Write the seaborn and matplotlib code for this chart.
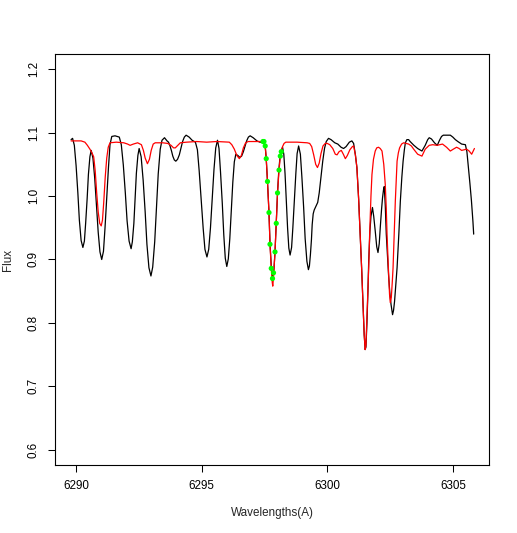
import matplotlib
matplotlib.use("Agg")
import matplotlib.pyplot as plt
import pandas as pd
import seaborn as sns

# observed spectrum (black)
black_wl = [
    6289.80, 6289.86, 6289.93, 6290.00, 6290.07, 6290.13, 6290.20, 6290.27, 6290.33, 6290.38,
    6290.44, 6290.49, 6290.55, 6290.60, 6290.67, 6290.74, 6290.81, 6290.88, 6290.95, 6291.02,
    6291.09, 6291.15, 6291.22, 6291.29, 6291.35, 6291.42, 6291.55, 6291.72, 6291.80, 6291.88,
    6291.96, 6292.03, 6292.11, 6292.19, 6292.24, 6292.30, 6292.35, 6292.40, 6292.46, 6292.51,
    6292.59, 6292.67, 6292.75, 6292.82, 6292.90, 6292.98, 6293.05, 6293.13, 6293.20, 6293.27,
    6293.35, 6293.42, 6293.52, 6293.62, 6293.68, 6293.74, 6293.80, 6293.85, 6293.91, 6293.97,
    6294.04, 6294.11, 6294.18, 6294.24, 6294.31, 6294.38, 6294.50, 6294.62, 6294.75, 6294.83,
    6294.90, 6294.98, 6295.06, 6295.13, 6295.21, 6295.28, 6295.35, 6295.42, 6295.49, 6295.56,
    6295.63, 6295.69, 6295.75, 6295.82, 6295.88, 6295.94, 6296.00, 6296.06, 6296.12, 6296.18,
    6296.24, 6296.30, 6296.36, 6296.44, 6296.52, 6296.59, 6296.66, 6296.72, 6296.79, 6296.86,
    6296.93, 6297.05, 6297.20, 6297.32, 6297.42, 6297.48, 6297.53, 6297.57, 6297.62, 6297.68,
    6297.72, 6297.77, 6297.81, 6297.84, 6297.88, 6297.92, 6297.97, 6298.02, 6298.07, 6298.12,
    6298.17, 6298.22, 6298.27, 6298.32, 6298.37, 6298.42, 6298.47, 6298.52, 6298.58, 6298.63,
    6298.69, 6298.75, 6298.80, 6298.86, 6298.93, 6298.99, 6299.06, 6299.12, 6299.19, 6299.25,
    6299.29, 6299.33, 6299.37, 6299.40, 6299.44, 6299.48, 6299.55, 6299.62, 6299.68, 6299.75,
    6299.82, 6299.89, 6299.96, 6300.05, 6300.15, 6300.30, 6300.42, 6300.55, 6300.65, 6300.75,
    6300.88, 6300.98, 6301.05, 6301.12, 6301.18, 6301.25, 6301.31, 6301.37, 6301.42, 6301.47,
    6301.51, 6301.54, 6301.58, 6301.62, 6301.65, 6301.70, 6301.74, 6301.80, 6301.85, 6301.91,
    6301.97, 6302.02, 6302.07, 6302.11, 6302.16, 6302.20, 6302.24, 6302.27, 6302.31, 6302.35,
    6302.40, 6302.44, 6302.49, 6302.54, 6302.60, 6302.64, 6302.68, 6302.73, 6302.78, 6302.85,
    6302.91, 6302.97, 6303.02, 6303.07, 6303.11, 6303.17, 6303.24, 6303.30, 6303.45, 6303.60,
    6303.77, 6303.90, 6304.00, 6304.06, 6304.15, 6304.27, 6304.38, 6304.47, 6304.55, 6304.62,
    6304.90, 6305.00, 6305.10, 6305.20, 6305.35, 6305.50, 6305.56, 6305.62, 6305.68, 6305.74,
    6305.80, 6305.83,
]
black_flux = [
    1.089, 1.091, 1.080, 1.048, 1.005, 0.962, 0.930, 0.919, 0.929, 0.957,
    0.996, 1.034, 1.062, 1.072, 1.060, 1.029, 0.986, 0.943, 0.912, 0.900,
    0.913, 0.949, 0.997, 1.046, 1.081, 1.094, 1.095, 1.093, 1.081, 1.049,
    1.005, 0.961, 0.929, 0.917, 0.928, 0.957, 0.996, 1.036, 1.064, 1.075,
    1.062, 1.025, 0.975, 0.924, 0.887, 0.874, 0.888, 0.928, 0.981, 1.035,
    1.074, 1.088, 1.092, 1.087, 1.085, 1.079, 1.071, 1.063, 1.057, 1.055,
    1.058, 1.065, 1.076, 1.086, 1.093, 1.096, 1.093, 1.088, 1.085, 1.073,
    1.040, 0.995, 0.949, 0.916, 0.904, 0.916, 0.950, 0.996, 1.042, 1.076,
    1.088, 1.075, 1.038, 0.989, 0.939, 0.902, 0.889, 0.901, 0.933, 0.978,
    1.022, 1.054, 1.066, 1.064, 1.061, 1.063, 1.070, 1.078, 1.087, 1.093,
    1.095, 1.092, 1.087, 1.085, 1.085, 1.084, 1.078, 1.059, 1.023, 0.974,
    0.926, 0.890, 0.876, 0.874, 0.886, 0.912, 0.957, 1.005, 1.040, 1.062,
    1.072, 1.077, 1.066, 1.035, 0.992, 0.950, 0.918, 0.907, 0.919, 0.950,
    0.993, 1.036, 1.067, 1.079, 1.066, 1.030, 0.982, 0.933, 0.897, 0.884,
    0.890, 0.908, 0.931, 0.955, 0.972, 0.978, 0.984, 0.990, 1.005, 1.030,
    1.055, 1.075, 1.086, 1.091, 1.089, 1.084, 1.082, 1.077, 1.075, 1.078,
    1.085, 1.087, 1.083, 1.065, 1.045, 0.995, 0.940, 0.885, 0.834, 0.782,
    0.758, 0.762, 0.800, 0.850, 0.897, 0.945, 0.968, 0.982, 0.968, 0.945,
    0.920, 0.911, 0.925, 0.950, 0.978, 0.997, 1.010, 1.015, 0.985, 0.940,
    0.905, 0.876, 0.848, 0.829, 0.813, 0.820, 0.834, 0.860, 0.887, 0.940,
    0.992, 1.030, 1.055, 1.073, 1.084, 1.089, 1.089, 1.086, 1.080, 1.075,
    1.071, 1.080, 1.089, 1.092, 1.090, 1.084, 1.080, 1.088, 1.094, 1.096,
    1.096, 1.093, 1.089, 1.086, 1.082, 1.081, 1.070, 1.045, 1.020, 0.993,
    0.960, 0.940,
]

# synthetic spectrum (red)
red_wl = [
    6289.80, 6290.00, 6290.20, 6290.35, 6290.45, 6290.55, 6290.62, 6290.70, 6290.76, 6290.82,
    6290.88, 6290.94, 6291.00, 6291.05, 6291.10, 6291.16, 6291.22, 6291.28, 6291.35, 6291.60,
    6291.90, 6292.05, 6292.15, 6292.28, 6292.45, 6292.60, 6292.68, 6292.75, 6292.84, 6292.92,
    6292.99, 6293.07, 6293.15, 6293.45, 6293.65, 6293.78, 6293.88, 6293.95, 6294.05, 6294.15,
    6294.40, 6294.80, 6295.20, 6295.60, 6296.10, 6296.20, 6296.30, 6296.40, 6296.50, 6296.58,
    6296.66, 6296.75, 6296.85, 6297.10, 6297.30, 6297.44, 6297.48, 6297.53, 6297.57, 6297.62,
    6297.68, 6297.72, 6297.77, 6297.81, 6297.83, 6297.86, 6297.92, 6297.97, 6298.02, 6298.08,
    6298.13, 6298.17, 6298.22, 6298.28, 6298.35, 6298.80, 6299.20, 6299.30, 6299.38, 6299.46,
    6299.54, 6299.61, 6299.68, 6299.75, 6299.83, 6299.92, 6300.00, 6300.10, 6300.22, 6300.32,
    6300.39, 6300.47, 6300.56, 6300.64, 6300.72, 6300.80, 6300.90, 6301.00, 6301.05, 6301.12,
    6301.18, 6301.25, 6301.31, 6301.37, 6301.42, 6301.47, 6301.51, 6301.54, 6301.58, 6301.62,
    6301.65, 6301.68, 6301.71, 6301.74, 6301.78, 6301.84, 6301.91, 6301.97, 6302.04, 6302.11,
    6302.18, 6302.25, 6302.31, 6302.35, 6302.38, 6302.43, 6302.48, 6302.51, 6302.55, 6302.59,
    6302.62, 6302.67, 6302.71, 6302.75, 6302.78, 6302.83, 6302.88, 6302.96, 6303.04, 6303.24,
    6303.35, 6303.44, 6303.60, 6303.77, 6303.90, 6304.06, 6304.20, 6304.37, 6304.59, 6304.75,
    6304.90, 6305.02, 6305.15, 6305.25, 6305.35, 6305.55, 6305.65, 6305.75, 6305.86,
]
red_flux = [
    1.087, 1.087, 1.087, 1.085, 1.080, 1.074, 1.069, 1.062, 1.040, 1.005,
    0.975, 0.957, 0.953, 0.962, 0.990, 1.030, 1.060, 1.077, 1.084, 1.085,
    1.084, 1.082, 1.080, 1.082, 1.084, 1.081, 1.072, 1.060, 1.051, 1.058,
    1.072, 1.082, 1.084, 1.084, 1.083, 1.080, 1.076, 1.076, 1.080, 1.084,
    1.085, 1.086, 1.085, 1.086, 1.085, 1.081, 1.074, 1.064, 1.059, 1.064,
    1.076, 1.084, 1.086, 1.086, 1.086, 1.086, 1.085, 1.079, 1.059, 1.023,
    0.974, 0.924, 0.886, 0.864, 0.858, 0.872, 0.912, 0.957, 1.005, 1.041,
    1.063, 1.070, 1.078, 1.083, 1.085, 1.085, 1.084, 1.083, 1.078, 1.065,
    1.050, 1.045, 1.052, 1.067, 1.079, 1.083, 1.083, 1.081, 1.075, 1.066,
    1.065, 1.070, 1.072, 1.066, 1.059, 1.064, 1.073, 1.078, 1.079, 1.065,
    1.045, 0.995, 0.940, 0.885, 0.834, 0.782, 0.758, 0.765, 0.810, 0.855,
    0.887, 0.930, 0.966, 1.000, 1.034, 1.058, 1.071, 1.076, 1.077, 1.075,
    1.071, 1.050, 1.018, 0.980, 0.940, 0.890, 0.845, 0.832, 0.840, 0.865,
    0.887, 0.945, 0.992, 1.030, 1.055, 1.068, 1.076, 1.082, 1.084, 1.082,
    1.079, 1.074, 1.066, 1.063, 1.074, 1.080, 1.081, 1.080, 1.082, 1.077,
    1.071, 1.074, 1.077, 1.075, 1.072, 1.074, 1.071, 1.066, 1.075,
]

# fitted line points (green)
fit_wl = [
    6297.44, 6297.48, 6297.53, 6297.57, 6297.62, 6297.68, 6297.72, 6297.77,
    6297.82, 6297.86, 6297.92, 6297.97, 6298.02, 6298.08, 6298.13, 6298.17,
]
fit_flux = [
    1.086, 1.086, 1.079, 1.059, 1.023, 0.974, 0.924, 0.886,
    0.870, 0.879, 0.912, 0.957, 1.005, 1.041, 1.063, 1.070,
]

x_ticks = [6290, 6295, 6300, 6305]
y_ticks = [0.6, 0.7, 0.8, 0.9, 1.0, 1.1, 1.2]

obs = pd.DataFrame({"wl": black_wl, "flux": black_flux})
syn = pd.DataFrame({"wl": red_wl, "flux": red_flux})
fit = pd.DataFrame({"wl": fit_wl, "flux": fit_flux})

sns.set_style("ticks")
plt.rcParams["font.family"] = ["Liberation Sans", "DejaVu Sans"]
plt.rcParams["axes.edgecolor"] = "black"
plt.rcParams["xtick.color"] = "black"
plt.rcParams["ytick.color"] = "black"

fig = plt.figure(figsize=(5.17, 5.33), dpi=100)
ax = fig.add_axes([55 / 517, 1 - 465 / 533, 434 / 517, 411 / 533])

sns.lineplot(data=obs, x="wl", y="flux", color="black", lw=0.9,
             estimator=None, sort=False, ax=ax)
sns.lineplot(data=syn, x="wl", y="flux", color="#ff0000", lw=0.9,
             estimator=None, sort=False, ax=ax)
sns.scatterplot(data=fit, x="wl", y="flux", color="#00ff00", s=14,
                edgecolor="none", ax=ax, zorder=5)

ax.set_xlim(6289.16, 6306.44)
ax.set_ylim(0.576, 1.224)
ax.set_xticks(x_ticks)
ax.set_xticklabels([str(t) for t in x_ticks], fontsize=8.4)
ax.set_yticks(y_ticks)
ax.set_yticklabels([f"{t:.1f}" for t in y_ticks], fontsize=8.4,
                   rotation=90, va="center")
ax.tick_params(direction="out", length=5, width=0.75, pad=6)
for sp in ax.spines.values():
    sp.set_linewidth(0.8)
    sp.set_visible(True)

ax.set_xlabel("Wavelengths(A)", fontsize=8.4)
ax.set_ylabel("Flux", fontsize=8.4)
ax.xaxis.set_label_coords(0.5, -48 / 411)
ax.yaxis.set_label_coords(-47 / 434, 0.5)
ax.xaxis.label.set_va("center")
ax.yaxis.label.set_va("center")

fig.savefig("out.png", dpi=100)
